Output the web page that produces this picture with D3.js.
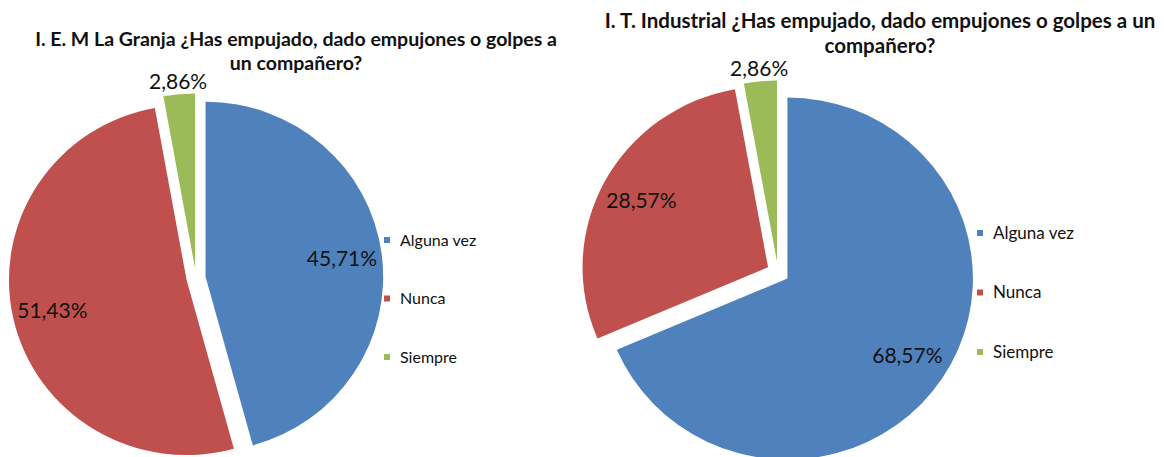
<!DOCTYPE html>
<html>
<head>
<meta charset="utf-8">
<script src="https://cdn.jsdelivr.net/npm/d3@7"></script>
<style>
    body { margin: 0; background: #fff; }
    svg { display: block; }
</style>
</head>
<body>
<svg id="chart" width="1164" height="457"></svg>
<script>
// data
const categories = ["Alguna vez", "Nunca", "Siempre"];
const granjaValues = [45.71, 51.43, 2.86];
const industrialValues = [68.57, 28.57, 2.86];
const granjaTitle = ["I. E. M La Granja ¿Has empujado, dado empujones o golpes a", "un compañero?"];
const industrialTitle = ["I. T. Industrial ¿Has empujado, dado empujones o golpes a un", "compañero?"];
const sliceColors = ["#4F81BD", "#C0504D", "#9BBB59"];

const svg = d3.select("#chart").attr("font-family", "Lato, 'Liberation Sans', sans-serif");
const color = d3.scaleOrdinal().domain(categories).range(sliceColors);
const fmt = v => d3.format(".2f")(v).replace(".", ",") + "%";

function drawPie(cfg) {
    let arcs = d3.pie().sort(null).value(d => d)(cfg.values)
        .map((a, i) => ({...a, cat: categories[i]}));
    let arc = d3.arc().innerRadius(0).outerRadius(cfg.r);
    // offset of an exploded slice along its middle angle
    let shift = (a, k) => {
        let m = (a.startAngle + a.endAngle) / 2;
        return [Math.sin(m) * k, -Math.cos(m) * k];
    };

    let g = svg.append("g")
        .attr("transform", `translate(${cfg.cx},${cfg.cy}) scale(${cfg.sx},1)`);
    g.selectAll("path")
        .data(arcs)
        .join("path")
        .attr("d", arc)
        .attr("fill", d => color(d.cat))
        .attr("transform", d => `translate(${shift(d, cfg.explode)})`);

    // data labels: inside for big slices, outside for small ones
    svg.append("g").selectAll("text")
        .data(arcs)
        .join("text")
        .attr("x", d => {
            let k = d.value < 5 ? cfg.r * 1.07 : cfg.r * 0.775;
            return cfg.cx + cfg.sx * (shift(d, cfg.explode)[0] + shift(d, k)[0]);
        })
        .attr("y", d => {
            let k = d.value < 5 ? cfg.r * 1.07 : cfg.r * 0.775;
            return cfg.cy + shift(d, cfg.explode)[1] + shift(d, k)[1];
        })
        .attr("dy", "0.35em")
        .attr("text-anchor", "middle")
        .attr("font-size", cfg.labelSize)
        .attr("fill", "#111")
        .text(d => fmt(d.value));

    // title
    svg.append("g").selectAll("text")
        .data(cfg.title)
        .join("text")
        .attr("x", cfg.titleX)
        .attr("y", (d, i) => cfg.titleY + i * cfg.titleLine)
        .attr("text-anchor", "middle")
        .attr("font-weight", "bold")
        .attr("font-size", cfg.titleSize)
        .attr("fill", "#111")
        .text(d => d);

    // legend
    let ly = d3.scalePoint().domain(categories).range(cfg.legendY);
    let lg = svg.append("g").selectAll("g")
        .data(categories)
        .join("g")
        .attr("transform", d => `translate(${cfg.legendX},${ly(d)})`);
    lg.append("rect")
        .attr("x", 0)
        .attr("y", -3)
        .attr("width", 6)
        .attr("height", 6)
        .attr("fill", d => color(d));
    lg.append("text")
        .attr("x", 16)
        .attr("dy", "0.35em")
        .attr("font-size", cfg.legendSize)
        .attr("fill", "#111")
        .text(d => d);
}

drawPie({
    values: granjaValues, title: granjaTitle,
    cx: 196, cy: 278, r: 175, explode: 9.5, sx: 1.015,
    titleX: 296, titleY: 46, titleLine: 24, titleSize: 19.5,
    labelSize: 21,
    legendX: 384, legendY: [240, 357], legendSize: 16
});

drawPie({
    values: industrialValues, title: industrialTitle,
    cx: 778, cy: 272.5, r: 181, explode: 11, sx: 1.025,
    titleX: 880, titleY: 28, titleLine: 25, titleSize: 20.5,
    labelSize: 21,
    legendX: 977, legendY: [233, 352], legendSize: 17
});
</script>
</body>
</html>
